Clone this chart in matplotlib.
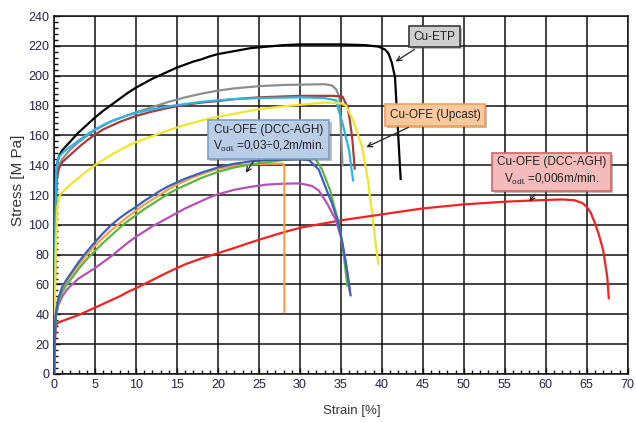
import matplotlib
matplotlib.use("Agg")
import matplotlib.pyplot as plt
from matplotlib.ticker import MultipleLocator
from matplotlib import patheffects as pe

plt.rcParams["font.family"] = ["Liberation Sans Narrow", "Liberation Sans", "DejaVu Sans"]

# Cu-ETP (black)
etp_x = [0, 0.1, 0.2, 0.35, 0.6, 1, 1.5, 2, 3, 4, 5, 6, 7, 8, 9, 10, 11, 12, 13, 14, 15, 16, 17, 18, 19, 20, 22, 24, 26, 28, 30, 35, 38, 39.6, 40.4, 40.8, 41.2, 41.6, 42.3]
etp_y = [0, 60, 120, 140, 146, 150, 153, 156, 162, 167, 172, 176.5, 180.5, 184.5, 188.5, 192, 195, 198, 200.5, 203, 205.5, 207.5, 209.5, 211, 213, 214.5, 216.5, 218.5, 219.5, 220.5, 221, 221, 220.5, 219.5, 217.5, 215, 209, 199, 130]
# Cu-OFE upcast family (gray, cyan, brown, yellow)
gray_x = [0, 0.15, 0.3, 0.5, 1, 1.5, 2, 3, 4, 5, 6, 7, 8, 9, 10, 12, 14, 16, 18, 20, 22, 25, 28, 30, 33, 33.9, 34.4, 34.8, 35.0, 35.2]
gray_y = [0, 90, 130, 139, 144, 147.5, 150.5, 155.5, 159.5, 163.5, 166.5, 169.5, 171.5, 173.5, 175.5, 179, 182.5, 185.5, 188, 190, 191.5, 193, 193.8, 194, 194.3, 193.5, 191, 186, 165, 139]
cyan_x = [0, 0.1, 0.25, 0.5, 1, 1.5, 2, 3, 4, 5, 6, 7, 8, 9, 10, 12, 14, 16, 18, 20, 22, 25, 30, 33, 34.4, 35.2, 36.0, 36.5]
cyan_y = [0, 80, 135, 145, 148, 150.5, 152.5, 156.5, 160.5, 164, 167, 169.5, 171.5, 173.5, 175, 177.5, 179.5, 181, 182.5, 183.5, 184.3, 185, 185.5, 185, 183.5, 168, 150, 129]
brown_x = [0, 0.15, 0.3, 0.6, 1, 1.5, 2, 3, 4, 5, 6, 7, 8, 9, 10, 12, 14, 16, 18, 20, 22, 25, 30, 34, 35.2, 35.8, 36.1, 36.4, 36.7]
brown_y = [0, 80, 130, 138, 142, 144.5, 147, 152, 156.5, 160.5, 164, 166.5, 169, 171, 173, 176, 178.5, 180.5, 182, 183, 184.3, 185.5, 186.5, 186.5, 186, 179, 170, 157, 137]
yellow_x = [0, 0.2, 0.4, 0.7, 1.5, 2, 3, 4, 5, 6, 7, 8, 9, 10, 12, 14, 16, 18, 20, 22, 25, 28, 30, 33, 35, 35.6, 36.5, 37.6, 38.3, 38.8, 39.3, 39.6]
yellow_y = [0, 80, 112, 120, 124.5, 127, 131.5, 136, 140, 143.5, 147, 150, 153, 155.5, 159.5, 163.5, 167, 170, 172.5, 174.5, 177.5, 179.5, 180.5, 182, 181.5, 180, 170, 152, 130, 108, 85, 73]
# Cu-OFE DCC-AGH 0.03-0.2 m/min (blue, green, orange, purple)
blue_x = [0, 0.1, 0.2, 0.5, 1, 1.5, 2, 3, 4, 5, 6, 7, 8, 9, 10, 11, 12, 13, 14, 15, 16, 18, 20, 22, 24, 26, 28, 30, 31.1, 32.3, 33.1, 33.9, 34.6, 35.2, 35.8, 36.2]
blue_y = [0, 25, 40, 50, 58.5, 63, 67, 75, 82, 88.5, 94.5, 100, 104.5, 108.5, 112, 116, 119.5, 123, 126, 128.5, 131, 135, 138.5, 141, 142.5, 143.5, 144, 144, 143.5, 137, 125.5, 114.5, 103, 87.5, 67.5, 52]
green_x = [0, 0.1, 0.2, 0.5, 1, 1.5, 2, 3, 4, 5, 6, 7, 8, 9, 10, 11, 12, 13, 14, 15, 16, 17, 18, 19, 20, 22, 24, 26, 28, 30, 31.9, 32.7, 33.7, 34.2, 34.8, 35.3, 35.8]
green_y = [0, 25, 38, 48, 55, 59.5, 63, 70.5, 77, 82.5, 88, 93, 98, 102.5, 106.5, 110.5, 114, 117.5, 121, 124, 126.5, 129, 131.5, 133.5, 135.5, 138.5, 140.5, 142, 143.5, 144.3, 144.5, 137, 123, 112, 100, 82, 58.5]
orange_x = [0, 0.1, 0.2, 0.5, 1, 1.5, 2, 3, 4, 5, 6, 7, 8, 9, 10, 11, 12, 13, 14, 15, 16, 17, 18, 19, 20, 22, 24, 26, 27.9, 28.1, 28.1]
orange_y = [0, 25, 40, 49, 57, 61.5, 65.5, 73, 80, 86, 91.5, 96.5, 101, 105.5, 109.5, 113.5, 117, 120.5, 124, 127, 129.5, 132, 134, 136, 137.5, 139.5, 140.5, 141, 141, 139, 41]
purple_x = [0, 0.1, 0.2, 0.5, 1, 1.5, 2, 3, 4, 5, 6, 7, 8, 9, 10, 11, 12, 13, 14, 15, 16, 17, 18, 19, 20, 22, 24, 26, 28, 30, 31.5, 32.3, 33.3, 34.4, 35.0, 35.6, 36.1]
purple_y = [0, 25, 38, 46, 52, 56, 59, 64, 67.5, 71, 75, 79, 83.5, 88, 92, 95.5, 99, 102, 105, 108, 111, 113.5, 116, 118.5, 120.5, 123.5, 125.5, 127, 127.6, 127.8, 126, 123, 114.5, 103, 92, 75, 55]
# Cu-OFE DCC-AGH 0.006 m/min (red)
red_x = [0, 0.1, 0.2, 0.5, 1, 2, 3, 4, 5, 6, 7, 8, 9, 10, 12, 14, 16, 18, 20, 22, 25, 28, 30, 35, 40, 45, 50, 55, 60, 62, 63.5, 64.5, 65, 65.5, 66, 66.5, 67, 67.5, 67.7]
red_y = [0, 20, 32, 34.5, 35.5, 37.5, 39.5, 42, 44.5, 47, 49.5, 52, 55, 57.5, 63, 68.5, 73.5, 77.5, 81, 84.5, 90, 95, 98, 103, 107, 111, 113.7, 115.5, 116.7, 117, 116.5, 114.5, 112, 108, 101, 93, 83, 65, 50]

fig = plt.figure(figsize=(6.36, 4.23), dpi=100)
ax = fig.add_axes([0.085, 0.116, 0.902, 0.846])

curves = [(etp_x, etp_y, "#000000"), (gray_x, gray_y, "#8e8e8e"), (brown_x, brown_y, "#a43c3c"),
          (cyan_x, cyan_y, "#2cb4e2"), (yellow_x, yellow_y, "#eee62c"), (red_x, red_y, "#f02222"),
          (purple_x, purple_y, "#b552b5"), (orange_x, orange_y, "#f7a040"), (green_x, green_y, "#5cb543"),
          (blue_x, blue_y, "#3f5fbf")]
for xs, ys, c in curves:
    ax.plot(xs, ys, color=c, lw=1.6, solid_capstyle="butt", solid_joinstyle="round", zorder=3)

ax.set_xlim(0, 70); ax.set_ylim(0, 240)
ax.xaxis.set_major_locator(MultipleLocator(5)); ax.xaxis.set_minor_locator(MultipleLocator(1))
ax.yaxis.set_major_locator(MultipleLocator(20)); ax.yaxis.set_minor_locator(MultipleLocator(4))
ax.grid(True, which="major", color="#111111", lw=1.1)
ax.tick_params(which="both", direction="in", colors="#111111", labelcolor="#222244", labelsize=9)
ax.tick_params(which="major", length=4, width=1); ax.tick_params(which="minor", length=3, width=1)
for s in ax.spines.values(): s.set_color("#111111"); s.set_linewidth(1.1)
ax.set_ylabel("Stress [M Pa]", fontsize=11, color="#333333")
ax.yaxis.set_label_coords(-0.05, 0.542)
ax.set_xlabel("Strain [%]", fontsize=9.5, color="#333333")
ax.xaxis.set_label_coords(0.519, -0.088)

arrow = dict(arrowstyle="->", color="#222222", lw=0.9)
def label(text, xy, xytext, face, edge):
    t = ax.annotate(text, xy=xy, xytext=xytext, ha="center", va="center", fontsize=8.5, color="#222222",
                    arrowprops=arrow, zorder=5, linespacing=1.3,
                    bbox=dict(boxstyle="square,pad=0.4", fc=face, ec=edge, lw=1.2))
    t.get_bbox_patch().set_path_effects([pe.withSimplePatchShadow(offset=(1.5, -1.5), alpha=0.35)])

label("Cu-ETP", (41.4, 208.5), (46.4, 226.3), "#cfcfcf", "#3a3a3a")
label("Cu-OFE (Upcast)", (37.8, 151.3), (46.5, 173.8), "#fbc99c", "#f0a060")
label("Cu-OFE (DCC-AGH)\nV$_{\\mathregular{odl.}}$=0,03÷0,2m/min.", (23.2, 133.4), (26.2, 157.7), "#bacde6", "#7c9dc9")
label("Cu-OFE (DCC-AGH)\nV$_{\\mathregular{odl.}}$=0,006m/min.", (57.8, 114), (60.7, 135.8), "#f5baba", "#d26464")

fig.savefig("out.png", dpi=100)
